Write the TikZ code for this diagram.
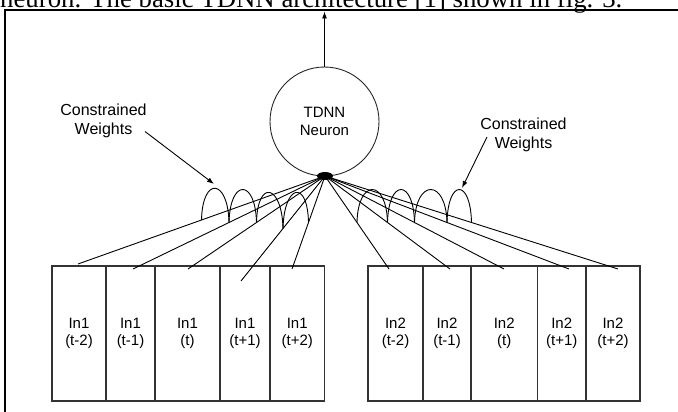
\documentclass[tikz,border=0pt]{standalone}
\usepackage{fontspec}
\setmainfont{Liberation Sans}
\newfontfamily\captionserif{Liberation Serif}
\usetikzlibrary{arrows.meta,calc,shapes.geometric}
\begin{document}
\begin{tikzpicture}[x=1pt,y=-1pt,
  wire/.style={line width=0.9pt, black},
  pointer/.style={line width=0.9pt, black, -{Latex[length=7pt,width=5pt]}},
  lbl/.style={font=\fontsize{15}{17}\selectfont, align=center, text=black},
  cw/.style={font=\fontsize{16}{18.6}\selectfont, align=center, inner sep=0pt},
  cell/.style={draw=black!80, line width=1.2pt, minimum height=135, inner sep=0pt, lbl},
]
\useasboundingbox (0,0) rectangle (678,412);

% running text of the page above the figure
\node[anchor=base west, inner sep=0pt, font=\captionserif\fontsize{26.8}{30}\selectfont] (caption)
  at (0,7.5) {neuron. The basic TDNN architecture [1] shown in fig. 3.};

% figure frame
\draw[line width=2.3pt] (4.7,412) -- (4.7,10) -- (678,10);

% the neuron and its output
\node[circle, draw=black!85, line width=0.9pt, minimum size=109, inner sep=0pt,
      font=\fontsize{15}{18}\selectfont, align=center] (neuron) at (324.5,121.5) {TDNN\\Neuron};
\node[ellipse, fill=black, minimum width=16, minimum height=8, inner sep=0pt] (hub) at (325,176) {};
\coordinate (out) at (324.5,11.5);
\draw[pointer] (neuron) -- (out);

% delayed inputs, first stream
\node[cell, minimum width=54]   (L1) at (79,333.5)    {In1\\(t-2)};
\node[cell, minimum width=49]   (L2) at (130.5,333.5) {In1\\(t-1)};
\node[cell, minimum width=65]   (L3) at (187.5,333.5) {In1\\(t)};
\node[cell, minimum width=50]   (L4) at (245,333.5)   {In1\\(t+1)};
\node[cell, minimum width=54.5] (L5) at (297.25,333.5){In1\\(t+2)};

% delayed inputs, second stream
\node[cell, minimum width=55]   (R1) at (395.5,333.5) {In2\\(t-2)};
\node[cell, minimum width=48]   (R2) at (447,333.5)   {In2\\(t-1)};
\node[cell, minimum width=66.5] (R3) at (504.25,333.5){In2\\(t)};
\node[cell, minimum width=48.5] (R4) at (561.75,333.5){In2\\(t+1)};
\node[cell, minimum width=54]   (R5) at (613,333.5)   {In2\\(t+2)};

% where each connection meets its input cell
\coordinate (eL1) at (78,264);
\coordinate (eL2) at (133,269);
\coordinate (eL3) at (188,269);
\coordinate (eL4) at (241,281);
\coordinate (eL5) at (292,269);
\coordinate (eR1) at (389,269);
\coordinate (eR2) at (450,269);
\coordinate (eR3) at (504,269);
\coordinate (eR4) at (569,269);
\coordinate (eR5) at (618,269);

% connections and their midpoints
\foreach \s in {L,R}{
  \foreach \i in {1,...,5}{
    \draw[wire] (hub.center) -- (e\s\i);
    \coordinate (m\s\i) at ($(hub.center)!0.5!(e\s\i)$);
  }
}

% shared-weight loops linking neighbouring connections
\foreach \s in {L,R}{
  \foreach \a/\b in {1/2,2/3,3/4,4/5}{
    \draw[wire] (m\s\a) .. controls ($(m\s\a)+(1,-44)$) and ($(m\s\b)+(-1,-44)$) .. (m\s\b);
  }
}

% annotations
\node[cw] (cwL) at (103.5,120.9) {Constrained\\Weights};
\node[cw] (cwR) at (523.5,134.6) {Constrained\\Weights};
\coordinate (tailL) at (145,131.5);
\coordinate (tipL)  at (214,184);
\coordinate (tailR) at (487,137);
\coordinate (tipR)  at (462,188);
\draw[pointer] (tailL) -- (tipL);
\draw[pointer] (tailR) -- (tipR);
\end{tikzpicture}
\end{document}
